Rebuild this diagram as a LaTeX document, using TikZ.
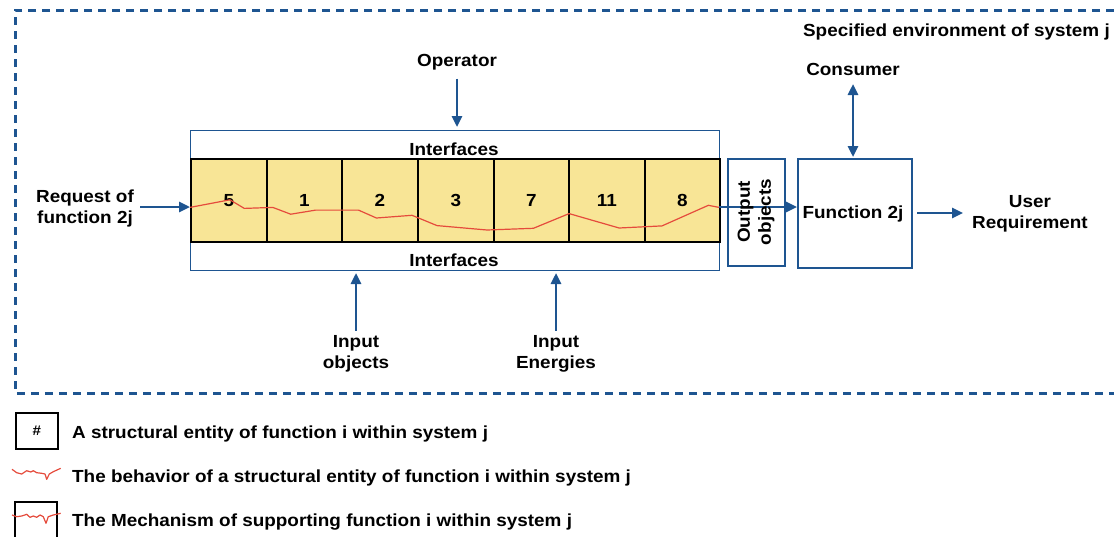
\documentclass[tikz,border=0pt]{standalone}
\usepackage{fontspec}
\setmainfont{Liberation Sans}[FakeStretch=1.08]
\usetikzlibrary{arrows.meta}
\definecolor{dblue}{HTML}{1E5591}
\definecolor{cyel}{HTML}{F8E596}
\definecolor{cred}{HTML}{E54B3C}
\tikzset{
  lbl/.style={font=\fontsize{17.5}{21}\selectfont\bfseries, align=center, inner sep=0pt, yshift=-1.5pt},
  rlbl/.style={font=\fontsize{17.5}{21}\selectfont\bfseries, align=center, inner sep=0pt, rotate=90},
  arr/.style={draw=dblue, line width=2.6pt, -{Triangle[length=11pt,width=10pt]}},
  darr/.style={draw=dblue, line width=2.6pt, {Triangle[length=11pt,width=10pt]}-{Triangle[length=11pt,width=10pt]}},
  cellbox/.style={draw=black, line width=1.8pt, fill=cyel, minimum height=83pt, anchor=north west, inner sep=0pt, font=\fontsize{17.5}{21}\selectfont\bfseries},
  bluebox/.style={draw=dblue, line width=2pt, anchor=north west, inner sep=0pt},
  redline/.style={draw=cred, line width=1.2pt, line join=round},
}
\begin{document}
\begin{tikzpicture}[x=1pt,y=-1pt]
\useasboundingbox (0,0) rectangle (1114,536);
% environment border
\draw[dblue, line width=3pt, dash pattern=on 8pt off 6pt] (1114,10) -- (15,10) -- (15,393) -- (1114,393);
\node[lbl, anchor=east] (env) at (1110,30) {Specified environment of system j};
% interfaces box
\node[draw=dblue, line width=0.8pt, minimum width=529pt, minimum height=140pt, anchor=north west, inner sep=0pt] (iface) at (190,130) {};
\node[lbl] (itop) at (454,148) {Interfaces};
\node[lbl] (ibot) at (454,259) {Interfaces};
% cells
\node[cellbox, minimum width=76pt] (c1) at (190,158) {5};
\node[cellbox, minimum width=75pt] (c2) at (266,158) {1};
\node[cellbox, minimum width=76pt] (c3) at (341,158) {2};
\node[cellbox, minimum width=76pt] (c4) at (417,158) {3};
\node[cellbox, minimum width=75pt] (c5) at (493,158) {7};
\node[cellbox, minimum width=76pt] (c6) at (568,158) {11};
\node[cellbox, minimum width=75pt] (c7) at (644,158) {8};
% behaviour line
\draw[redline] (190,207.4) -- (230,199.8) -- (244.3,208.4) -- (272.8,207.4) -- (290.7,214.2) -- (315.7,210.1) -- (358.5,210.1) -- (376.4,218) -- (412,215.3) -- (437,225.6) -- (487,230) -- (533.4,228.3) -- (569.1,213.6) -- (619.1,228) -- (662,225.9) -- (708.4,205.3) -- (719,207.4);
% operator
\node[lbl] (op) at (457,61) {Operator};
\coordinate (opend) at (457,127);
\draw[arr] (op.south) ++(0,8) -- (opend);
% request
\node[lbl] (req) at (85,207) {Request of\\function 2j};
\coordinate (reqstart) at (140,207);
\draw[arr] (reqstart) -- (c1.west |- reqstart);
% output objects
\node[bluebox, minimum width=57pt, minimum height=107pt] (out) at (727,158) {};
% function
\node[bluebox, minimum width=114pt, minimum height=109pt] (fn) at (797,158) {};
\node[lbl] (fntxt) at (853,212) {Function 2j};
\coordinate (ostart) at (719,207);
\draw[arr] (ostart) -- (fn.west |- ostart);
\node[rlbl] (outtxt) at (756,212) {Output\\objects};
% consumer
\node[lbl] (cons) at (853,68) {Consumer};
\coordinate (consa) at (853,84);
\coordinate (consb) at (853,157);
\draw[darr] (consa) -- (consb);
% user requirement
\node[lbl] (user) at (1030,212) {User\\Requirement};
\coordinate (ua) at (917,213);
\coordinate (ub) at (963,213);
\draw[arr] (ua) -- (ub);
% inputs
\node[lbl] (inobj) at (356,352) {Input\\objects};
\node[lbl] (inen) at (556,352) {Input\\Energies};
\coordinate (ioa) at (356,273);
\coordinate (iea) at (556,273);
\draw[arr] (inobj.north) ++(0,-4) -- (ioa);
\draw[arr] (inen.north) ++(0,-4) -- (iea);
% legend
\node[draw=black, line width=1.8pt, minimum width=42pt, minimum height=36pt, anchor=north west, inner sep=0pt, font=\fontsize{14}{16}\selectfont\bfseries] (lg1) at (15,412) {\#};
\node[lbl, anchor=west] (lt1) at (72,432) {A structural entity of function i within system j};
\draw[redline] (12,469.3) -- (16.7,472.7) -- (21.7,474) -- (26.7,470.7) -- (30.7,472) -- (33.3,470.7) -- (36.7,472.7) -- (41.7,473.3) -- (45,474) -- (46.7,479.3) -- (49.3,474) -- (53.3,471.7) -- (60.7,468.3);
\node[lbl, anchor=west] (lt2) at (72,476) {The behavior of a structural entity of function i within system j};
\draw[black, line width=1.8pt] (15,540) -- (15,502) -- (57,502) -- (57,540);
\draw[redline] (12,515) -- (16.7,516.7) -- (21.7,516) -- (26.7,514.3) -- (30,517.3) -- (33.3,516) -- (36.7,517.3) -- (40,515) -- (43.3,516.7) -- (46,523.3) -- (48.3,516.7) -- (53.3,515) -- (60.7,513.3);
\node[lbl, anchor=west] (lt3) at (72,521) {The Mechanism of supporting function i within system j};
\end{tikzpicture}
\end{document}
